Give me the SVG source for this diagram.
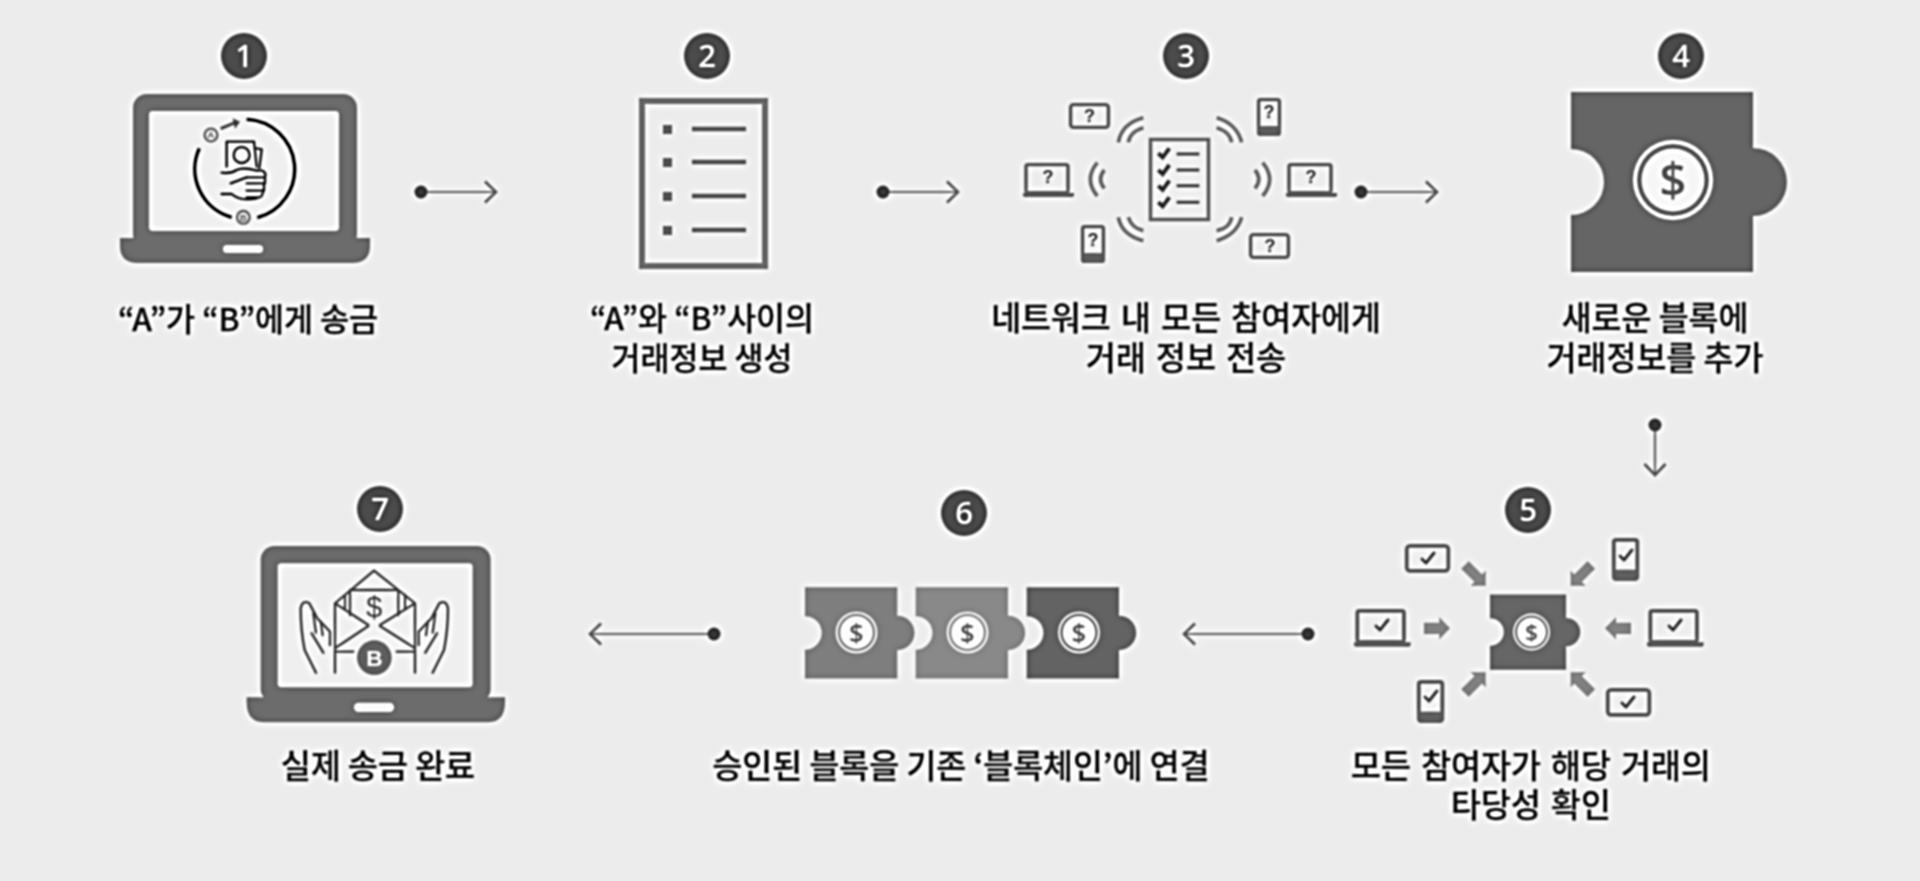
<svg xmlns="http://www.w3.org/2000/svg" xmlns:xlink="http://www.w3.org/1999/xlink" width="1920" height="881" viewBox="0 0 1920 881">
<style>
.lb{font-family:"Noto Sans CJK KR","Noto Sans",sans-serif;font-size:32.500px;font-weight:500;fill:#2a2a2a;stroke:#2a2a2a;stroke-width:.35;text-anchor:middle}
.lq{font-size:31.500px}
.num{font-family:"Noto Sans","Liberation Sans",sans-serif;font-size:31px;fill:#f4f4f4;text-anchor:middle;font-weight:500}
.bd{fill:#4c4c4c}
.lap{fill:#6c6c6c}
.scr{fill:#efefef}
.dev{fill:none;stroke:#666;stroke-width:3.400}
.devf{fill:#666}
.q{font-family:"Liberation Sans",sans-serif;font-weight:700;font-size:18px;fill:#444;text-anchor:middle}
.d{font-family:"Open Sans","Liberation Sans",sans-serif;font-weight:600;fill:#5e5e5e;text-anchor:middle}
.ck{fill:none;stroke:#4a4a4a;stroke-width:3;stroke-linecap:round;stroke-linejoin:round}
.wave{fill:none;stroke:#777;stroke-width:11}
.ico{fill:none;stroke:#222;stroke-width:7;stroke-linecap:round;stroke-linejoin:round}
.ico7{fill:none;stroke:#4a4a4a;stroke-width:7;stroke-linecap:round;stroke-linejoin:round}
.conn{fill:none;stroke:#7a7a7a;stroke-width:2.200;marker-start:url(#dot);marker-end:url(#open)}
.ba{fill:#868686}
.tiny{font-family:"Liberation Sans",sans-serif;font-weight:700;font-size:28px;fill:#555;text-anchor:middle}
</style>
<defs>
<filter id="sharp" filterUnits="userSpaceOnUse" x="0" y="0" width="1920" height="881" color-interpolation-filters="sRGB">
<feGaussianBlur in="SourceGraphic" stdDeviation="1.100" result="a"/>
<feGaussianBlur in="SourceGraphic" stdDeviation="3" result="b"/>
<feComposite in="a" in2="b" operator="arithmetic" k1="0" k2="1.600" k3="-0.600" k4="0"/>
</filter>
<marker id="dot" markerUnits="userSpaceOnUse" markerWidth="16" markerHeight="16" refX="8" refY="8" orient="auto"><circle cx="8" cy="8" r="6.500" fill="#444"/></marker>
<marker id="open" markerUnits="userSpaceOnUse" markerWidth="16" markerHeight="26" refX="13" refY="13" orient="auto"><path d="M2 2.500L13 13L2 23.500" fill="none" stroke="#666" stroke-width="2.600"/></marker>
<path id="pz" d="M0 0H182V56A34 34 0 0 1 182 124V180H0V123A33 33 0 0 0 0 57Z"/>
<g id="coin"><circle r="40" fill="#f6f6f6"/><circle r="36"/><circle r="31.500" fill="#f6f6f6"/></g>
<g id="tablet"><rect x="1.600" y="1.600" width="37.800" height="22.800" rx="3" class="dev"/></g>
<g id="phone"><rect x="1.600" y="1.600" width="20.800" height="34.800" rx="2" class="dev"/><rect x="1" y="28" width="22" height="9" class="devf"/></g>
<g id="laptop"><rect x="3" y="1.600" width="42" height="28" rx="2" class="dev"/><path d="M0 30H51V32Q51 34 49 34H2Q0 34 0 32Z" class="devf"/></g>
<path id="chk" d="M-6 1L-2 5L6 -5" class="ck"/>
<polygon id="diag" class="ba" points="497,317 452,317 463.700,306.300 423.700,266.300 446.300,243.700 486.300,283.700 497,272"/>
<g id="hand"><path class="ico7" d="M258 578L224 510Q212 450 212 385Q218 358 238 370L262 415L300 455V495"/><path class="ico7" d="M250 400L258 458M272 425L278 465M245 460L280 518"/></g>
</defs>
<g filter="url(#sharp)">
<rect x="-10" y="-10" width="1940" height="901" fill="#ececec"/>

<g id="connectors">
<line class="conn" x1="421" y1="192" x2="496" y2="192"/>
<line class="conn" x1="883" y1="192" x2="958" y2="192"/>
<line class="conn" x1="1361" y1="192" x2="1437" y2="192"/>
<line class="conn" x1="1655" y1="425" x2="1655" y2="475"/>
<line class="conn" x1="1308" y1="634" x2="1184" y2="634"/>
<line class="conn" x1="714" y1="634" x2="590" y2="634"/>
</g>

<g id="node1">
<circle class="bd" cx="244" cy="56" r="23"/><text class="num" x="244" y="67">1</text>
<rect class="lap" x="133" y="94" width="224" height="155" rx="14"/>
<rect class="scr" x="149" y="111" width="190" height="120" rx="4"/>
<path class="lap" d="M120 238H370V246Q370 263 352 263H138Q120 263 120 246Z"/>
<rect class="scr" x="223" y="245" width="40" height="8" rx="4"/>
<g transform="translate(100,20) scale(.33333)">
<path fill="none" stroke="#1c1c1c" stroke-width="10" d="M440 298A150 150 0 0 1 472 593M395 592A150 150 0 0 1 298 385"/>
<circle cx="333" cy="345" r="19" fill="none" stroke="#666" stroke-width="7"/>
<circle cx="430" cy="592" r="19" fill="none" stroke="#666" stroke-width="7"/>
<text class="tiny" x="333" y="355">A</text><text class="tiny" x="430" y="602">B</text>
<path d="M362 326L405 308" fill="none" stroke="#555" stroke-width="9"/><path d="M398 295L420 305L405 326Z" fill="#555"/>
<path class="ico" d="M380 440V365H462L470 440"/>
<path class="ico" d="M470 385L485 388L478 445"/>
<circle class="ico" cx="425" cy="405" r="24"/>
<path class="ico" d="M365 458Q392 462 410 450Q430 440 470 452"/>
<path class="ico" d="M440 472H495Q500 460 488 452H470M440 490H495V470M440 512H492V490M440 532H478Q488 530 490 510"/>
<path class="ico" d="M392 490L440 472M365 522H395Q420 545 470 535"/>
</g>
<text class="lb lq" x="202" y="331" transform="translate(46,0)">“A”가 “B”에게 송금</text>
</g>

<g id="node2">
<circle class="bd" cx="707" cy="56" r="23"/><text class="num" x="707" y="67">2</text>
<rect x="642" y="101" width="123" height="165" fill="none" stroke="#757575" stroke-width="6"/>
<g fill="#666"><rect x="663" y="125" width="9" height="9"/><rect x="663" y="158" width="9" height="9"/><rect x="663" y="192" width="9" height="9"/><rect x="663" y="226" width="9" height="9"/></g>
<path d="M692 129H746M692 162H746M692 196H746M692 230H746" stroke="#666" stroke-width="4.500" fill="none"/>
<text class="lb lq"><tspan x="702" y="330">“A”와 “B”사이의</tspan><tspan x="702" y="370">거래정보 생성</tspan></text>
</g>

<g id="node3">
<circle class="bd" cx="1186" cy="56" r="23"/><text class="num" x="1186" y="67">3</text>
<rect x="1150.500" y="139.500" width="58" height="80" fill="none" stroke="#6e6e6e" stroke-width="3.500"/>
<g transform="translate(980,20) scale(.33333)">
<path class="wave" d="M415 367Q425 310 490 293M445 367Q450 335 490 323M710 293Q770 310 785 367M710 323Q750 335 755 367M415 592Q425 645 490 662M445 592Q455 625 490 632M710 662Q770 645 785 592M710 632Q750 625 755 592M352 428Q310 478 352 528M373 450Q350 478 373 505M848 428Q890 478 848 528M825 450Q848 478 825 505"/>
<path d="M590 402H658M590 450H658M590 497H658M590 547H658" stroke="#555" stroke-width="9" fill="none"/>
<path d="M535 400L548 412L568 385M535 450L548 462L568 435M535 497L548 509L568 482M535 547L548 559L568 532" fill="none" stroke="#444" stroke-width="12"/>
</g>
<use href="#tablet" x="1069" y="103"/><text class="q" x="1089.500" y="122">?</text>
<use href="#phone" x="1257" y="98"/><text class="q" x="1269" y="118">?</text>
<use href="#laptop" x="1023" y="163"/><text class="q" x="1048" y="183">?</text>
<use href="#laptop" x="1286" y="163"/><text class="q" x="1311" y="183">?</text>
<use href="#phone" x="1081" y="225"/><text class="q" x="1093" y="246">?</text>
<use href="#tablet" x="1249" y="233"/><text class="q" x="1270" y="252">?</text>
<text class="lb"><tspan x="1186" y="330" word-spacing="3">네트워크 내 모든 참여자에게</tspan><tspan x="1186" y="370" word-spacing="3">거래 정보 전송</tspan></text>
</g>

<g id="node4">
<circle class="bd" cx="1681" cy="56" r="23"/><text class="num" x="1681" y="67">4</text>
<use href="#pz" x="1571" y="92" fill="#656565"/>
<use href="#coin" transform="translate(1673,180)" fill="#656565"/>
<text class="d" x="1673" y="197" font-size="47">$</text>
<text class="lb"><tspan x="1655" y="330">새로운 블록에</tspan><tspan x="1655" y="370">거래정보를 추가</tspan></text>
</g>

<g id="node5">
<circle class="bd" cx="1528" cy="510" r="23"/><text class="num" x="1528" y="521">5</text>
<use href="#pz" transform="translate(1490,594.500) scale(.418)" fill="#666"/>
<use href="#coin" transform="translate(1531.500,632) scale(.46)" fill="#666"/>
<text class="d" x="1531.500" y="640" font-size="22">$</text>
<use href="#tablet" transform="translate(1405,544) scale(1.1)"/><use href="#chk" x="1428" y="558"/>
<use href="#phone" transform="translate(1612,538) scale(1.13)"/><use href="#chk" x="1626" y="555"/>
<use href="#laptop" transform="translate(1354,609) scale(1.11)"/><use href="#chk" x="1382" y="625"/>
<use href="#laptop" transform="translate(1647,609) scale(1.11)"/><use href="#chk" x="1675" y="625"/>
<use href="#phone" transform="translate(1417,680) scale(1.13)"/><use href="#chk" x="1431" y="696"/>
<use href="#tablet" transform="translate(1606,688) scale(1.1)"/><use href="#chk" x="1628" y="702"/>
<g transform="translate(1320,480) scale(.33333)">
<use href="#diag"/>
<use href="#diag" transform="translate(1249,0) scale(-1,1)"/>
<use href="#diag" transform="translate(0,894) scale(1,-1)"/>
<use href="#diag" transform="translate(1249,894) scale(-1,-1)"/>
<path class="ba" d="M312 428H358V412L390 445L358 478V462H312Z"/>
<path class="ba" d="M933 428H888V412L855 445L888 478V462H933Z"/>
</g>
<text class="lb"><tspan x="1531" y="778" word-spacing="3">모든 참여자가 해당 거래의</tspan><tspan x="1531" y="817" word-spacing="3">타당성 확인</tspan></text>
</g>

<g id="node6">
<circle class="bd" cx="964" cy="513" r="23"/><text class="num" x="964" y="524">6</text>
<use href="#pz" transform="translate(805,587.300) scale(.507)" fill="#7e7e7e"/>
<use href="#pz" transform="translate(915.700,587.300) scale(.507)" fill="#898989"/>
<use href="#pz" transform="translate(1026.700,587.300) scale(.507)" fill="#636363"/>
<use href="#coin" transform="translate(856.500,632.500) scale(.52)" fill="#7e7e7e"/>
<use href="#coin" transform="translate(967.500,632.500) scale(.52)" fill="#898989"/>
<use href="#coin" transform="translate(1079,632.500) scale(.52)" fill="#636363"/>
<text class="d" x="856.500" y="642" font-size="25">$</text>
<text class="d" x="967.500" y="642" font-size="25">$</text>
<text class="d" x="1079" y="642" font-size="25">$</text>
<text class="lb" x="961" y="778">승인된 블록을 기존 ‘블록체인’에 연결</text>
</g>

<g id="node7">
<circle class="bd" cx="380" cy="509" r="23"/><text class="num" x="380" y="520">7</text>
<g transform="translate(230,480) scale(.33333)">
<rect class="lap" x="92" y="198" width="690" height="470" rx="42"/>
<rect class="scr" x="143" y="250" width="585" height="372" rx="12"/>
<path class="lap" d="M50 652H825V668Q825 727 770 727H105Q50 727 50 668Z"/>
<rect class="scr" x="372" y="668" width="120" height="28" rx="14"/>
<path class="ico7" d="M315 578V370L432 272L555 370V578M360 330H505M360 330V405M505 330V405M315 370L415 435M555 370L450 435M315 505L415 438M555 505L450 438M320 515H370M500 515H555M345 345V385M525 345V385"/>
<use href="#hand"/>
<use href="#hand" transform="translate(866,0) scale(-1,1)"/>
<circle cx="433" cy="533" r="52" fill="#666"/>
<text x="433" y="558" font-family="Liberation Sans,sans-serif" font-weight="700" font-size="68" fill="#f0f0f0" text-anchor="middle">B</text>
<text x="433" y="412" font-family="Liberation Sans,sans-serif" font-size="86" fill="#4a4a4a" text-anchor="middle">$</text>
</g>
<text class="lb" x="378" y="778">실제 송금 완료</text>
</g>
</g>
</svg>
